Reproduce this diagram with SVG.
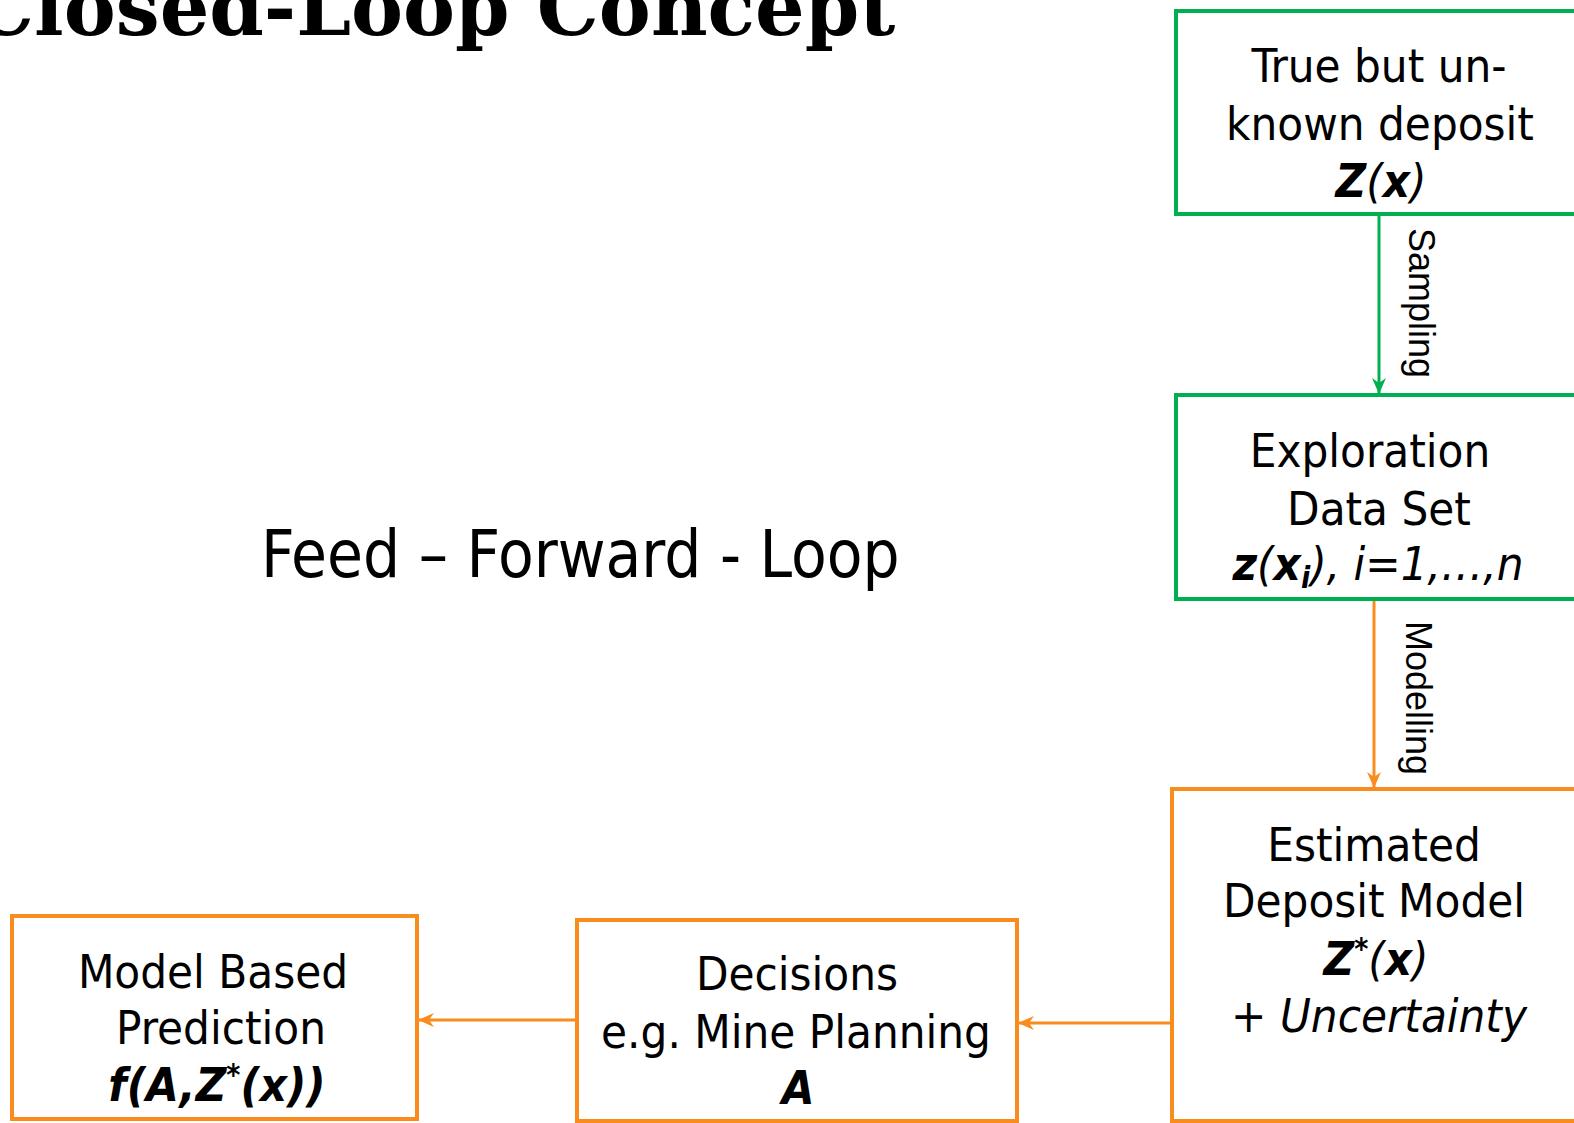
<svg xmlns="http://www.w3.org/2000/svg" width="1574" height="1123" viewBox="0 0 1574 1123">
<style>
.t{font-family:"DejaVu Sans Condensed","DejaVu Sans",sans-serif;font-stretch:condensed;font-size:47px;fill:#000;text-anchor:middle}
.b{font-weight:bold;font-style:italic}
.i{font-style:italic}
.g{fill:#fff;stroke:#00B050;stroke-width:4}
.o{fill:#fff;stroke:#FA8C1E;stroke-width:4}
.lg{stroke:#00B050;stroke-width:3;fill:none}
.lo{stroke:#FA8C1E;stroke-width:3;fill:none}
.lbl{font-family:"Liberation Sans",Arial,sans-serif;font-size:36px;fill:#000}
</style>
<defs>
<marker id="ag" viewBox="0 0 16 14" refX="15" refY="7" markerWidth="16" markerHeight="14" markerUnits="userSpaceOnUse" orient="auto"><path d="M0,0 L16,7 L0,14 L5,7 Z" fill="#00B050"/></marker>
<marker id="ao" viewBox="0 0 16 14" refX="15" refY="7" markerWidth="16" markerHeight="14" markerUnits="userSpaceOnUse" orient="auto"><path d="M0,0 L16,7 L0,14 L5,7 Z" fill="#FA8C1E"/></marker>
</defs>
<rect width="1574" height="1123" fill="#fff"/>
<text id="title" x="-28" y="35" font-family="DejaVu Serif,serif" font-weight="bold" font-size="78">Closed-Loop Concept</text>
<text id="ffl" x="261" y="577" font-family="DejaVu Sans Condensed,DejaVu Sans,sans-serif" font-stretch="condensed" font-size="65">Feed – Forward - Loop</text>
<g id="connectors">
<line class="lg" x1="1379" y1="215" x2="1379" y2="393" marker-end="url(#ag)"/>
<line class="lo" x1="1374" y1="600" x2="1374" y2="787" marker-end="url(#ao)"/>
<line class="lo" x1="1172" y1="1023" x2="1019" y2="1023" marker-end="url(#ao)"/>
<line class="lo" x1="577" y1="1020" x2="419" y2="1020" marker-end="url(#ao)"/>
<text class="lbl" transform="translate(1409,228) rotate(90)">Sampling</text>
<text class="lbl" transform="translate(1406,621) rotate(90)">Modelling</text>
</g>
<g id="n-true">
<rect class="g" x="1176" y="11" width="420" height="203"/>
<text class="t"><tspan x="1379" y="82">True but un-</tspan><tspan x="1380" y="140">known deposit</tspan><tspan x="1381" y="197"><tspan class="b">Z</tspan><tspan class="i">(</tspan><tspan class="b">x</tspan><tspan class="i">)</tspan></tspan></text>
</g>
<g id="n-expl">
<rect class="g" x="1176" y="395" width="420" height="204"/>
<text class="t"><tspan x="1370" y="467">Exploration</tspan><tspan x="1379" y="525">Data Set</tspan><tspan x="1378" y="580"><tspan class="b">z</tspan><tspan class="i">(</tspan><tspan class="b">x</tspan><tspan class="b" font-size="30" dy="8">i</tspan><tspan class="i" dy="-8">), i=1,…,n</tspan></tspan></text>
</g>
<g id="n-est">
<rect class="o" x="1172" y="789" width="404" height="332"/>
<text class="t"><tspan x="1374" y="861">Estimated</tspan><tspan x="1374" y="917">Deposit Model</tspan><tspan x="1376" y="975"><tspan class="b">Z</tspan><tspan class="b" font-size="30" dy="-16">*</tspan><tspan class="i" dy="16">(</tspan><tspan class="b">x</tspan><tspan class="i">)</tspan></tspan><tspan class="i" x="1379" y="1032">+ Uncertainty</tspan></text>
</g>
<g id="n-dec">
<rect class="o" x="577" y="920" width="440" height="201"/>
<text class="t"><tspan x="797" y="990">Decisions</tspan><tspan x="796" y="1048">e.g. Mine Planning</tspan><tspan class="b" x="798" y="1104">A</tspan></text>
</g>
<g id="n-pred">
<rect class="o" x="12" y="916" width="405" height="203"/>
<text class="t"><tspan x="213" y="988">Model Based</tspan><tspan x="221" y="1044">Prediction</tspan><tspan x="217" y="1101"><tspan class="b">f(A,Z</tspan><tspan class="b" font-size="30" dy="-16">*</tspan><tspan class="b" dy="16">(x))</tspan></tspan></text>
</g>
</svg>
